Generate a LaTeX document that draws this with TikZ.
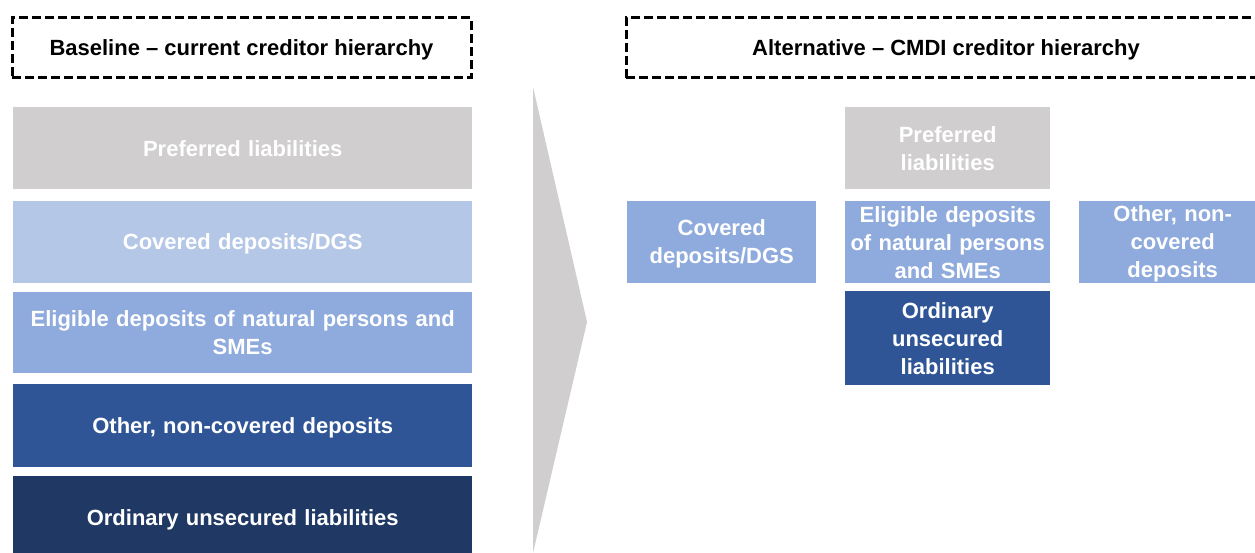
\documentclass[tikz,border=0pt]{standalone}
\usepackage{fontspec}
\setmainfont{Liberation Sans}
\definecolor{tiergrey}{HTML}{D0CECE}
\definecolor{tierlight}{HTML}{B4C7E7}
\definecolor{tiermid}{HTML}{8FAADC}
\definecolor{tierdark}{HTML}{2F5597}
\definecolor{tiernavy}{HTML}{203864}
\begin{document}
\begin{tikzpicture}[x=1pt,y=-1pt,
  % fixed first-line height and last-line depth keep the capitals centred
  txt/.style={font=\bfseries\fontsize{22}{28}\selectfont,
    execute at begin node={\rule{0pt}{20pt}},
    execute at end node={\rule[-4pt]{0pt}{0pt}}},
  header/.style={txt, draw=black, line width=3pt, dash pattern=on 9pt off 4pt,
    inner sep=0pt, minimum height=60pt, text=black},
  tier/.style={txt, fill=#1, text=white, align=center, inner sep=0pt,
    anchor=north west},
  wide/.style={minimum width=459pt, text width=440pt},
  narrow/.style={minimum width=#1, text width=#1-4pt},
]
\clip (0,0) rectangle (1255,553);
\fill[white] (0,0) rectangle (1255,553);

% headers
\node[header, minimum width=459pt] (lhead) at (241.5,48) {Baseline -- current creditor hierarchy};
\node[header, minimum width=640pt] (rhead) at (946,48) {Alternative -- CMDI creditor hierarchy};

% current ranking, one bar per class
\node[tier=tiergrey,  wide, minimum height=82pt] (lpref) at (13,107) {Preferred liabilities};
\node[tier=tierlight, wide, minimum height=82pt] (lcov)  at (13,201) {Covered deposits/DGS};
\node[tier=tiermid,   wide, minimum height=81pt] (lelig) at (13,292) {Eligible deposits of natural persons and\\SMEs};
\node[tier=tierdark,  wide, minimum height=83pt] (loth)  at (13,384) {Other, non-covered deposits};
\node[tier=tiernavy,  wide, minimum height=84pt] (lord)  at (13,476) {Ordinary unsecured liabilities};

% transition chevron
\fill[tiergrey] (533,87) -- (587,322) -- (533,553) -- cycle;

% proposed ranking
\node[tier=tiergrey, narrow=205pt, minimum height=82pt] (rpref) at (845,107) {Preferred\\liabilities};
\node[tier=tiermid,  narrow=189pt, minimum height=82pt] (rcov)  at (627,201) {Covered\\deposits/DGS};
\node[tier=tiermid,  narrow=205pt, minimum height=82pt] (relig) at (845,201) {Eligible deposits\\of natural persons\\and SMEs};
\node[tier=tiermid,  narrow=187pt, minimum height=82pt] (roth)  at (1079,201) {Other, non-\\covered\\deposits};
\node[tier=tierdark, narrow=205pt, minimum height=94pt] (rord)  at (845,291) {Ordinary\\unsecured\\liabilities};
\end{tikzpicture}
\end{document}
